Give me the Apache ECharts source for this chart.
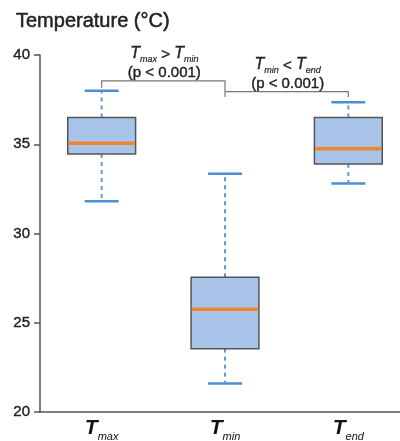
<!DOCTYPE html>
<html><head><meta charset="utf-8">
<script src="https://cdn.jsdelivr.net/npm/echarts@6/dist/echarts.min.js"></script>
<style>html,body{margin:0;padding:0;background:#fff}#c{width:400px;height:441px}</style>
</head><body><div id="c"></div>
<script>
var categories = ['max', 'min', 'end'];
var lowWhisker = [31.8, 21.6, 32.8];
var q1 = [34.45, 23.55, 33.9];
var median = [35.05, 25.75, 34.75];
var q3 = [36.5, 27.55, 36.5];
var highWhisker = [38.0, 33.35, 37.35];
var yTicks = [20, 25, 30, 35, 40];
// bracket: [fromIndex, toIndex, barY, leftEndY, rightEndY]
var brackets = [[0, 1, 38.55, 38.15, 37.65], [1, 2, 37.95, 37.95, 37.65]];
var bracketLabels = [['max', '>', 'min'], ['min', '<', 'end']];
var pLabel = '(p < 0.001)';

var FONT = '"Liberation Sans", Arial, Helvetica, sans-serif';
var boxData = categories.map(function (c, i) {
  return [i, lowWhisker[i], q1[i], median[i], q3[i], highWhisker[i]];
});

var chart = echarts.init(document.getElementById('c'));
chart.setOption({
  animation: false,
  title: {
    text: 'Temperature (°C)', left: 11, top: 6,
    textStyle: { fontFamily: FONT, fontSize: 20, fontWeight: 'normal', color: '#222', textBorderColor: '#222', textBorderWidth: 0.5 }
  },
  grid: { left: 40, width: 370, top: 55, bottom: 29, outerBoundsMode: 'none', containLabel: false },
  xAxis: {
    type: 'category', data: categories, boundaryGap: true,
    axisLine: { lineStyle: { color: '#555', width: 1.5 } },
    axisTick: { alignWithLabel: true, length: 5, lineStyle: { color: '#555', width: 1.5 } },
    axisLabel: {
      margin: 6,
      formatter: function (v) { return '{T|T}{s|' + v + '}'; },
      rich: {
        T: { fontFamily: FONT, fontSize: 21, fontWeight: 'bold', fontStyle: 'italic', color: '#111', verticalAlign: 'top', lineHeight: 24 },
        s: { fontFamily: FONT, fontSize: 11, fontStyle: 'italic', color: '#111', verticalAlign: 'bottom', lineHeight: 24, padding: [12, 0, 0, 0] }
      }
    },
    splitLine: { show: false }
  },
  yAxis: {
    type: 'value', min: yTicks[0], max: yTicks[yTicks.length - 1], interval: 5,
    axisLine: { show: true, lineStyle: { color: '#555', width: 1.5 } },
    axisTick: { show: true, length: 6, lineStyle: { color: '#555', width: 1.5 } },
    axisLabel: { fontFamily: FONT, fontSize: 15, color: '#222', margin: 10, textBorderColor: '#222', textBorderWidth: 0.4 },
    splitLine: { show: false }
  },
  series: [{
    type: 'custom',
    data: boxData,
    encode: { x: 0, y: [1, 2, 3, 4, 5] },
    renderItem: function (params, api) {
      var x = api.value(0);
      var w = api.size([1, 0])[0] * 0.55;
      var pLow = api.coord([x, api.value(1)]);
      var pQ1 = api.coord([x, api.value(2)]);
      var pMed = api.coord([x, api.value(3)]);
      var pQ3 = api.coord([x, api.value(4)]);
      var pHigh = api.coord([x, api.value(5)]);
      var cx = pMed[0];
      var dash = { stroke: '#5b9bd5', lineWidth: 2, lineDash: [4, 4] };
      var cap = { stroke: '#4a8fd0', lineWidth: 2.5 };
      return {
        type: 'group',
        children: [
          { type: 'line', shape: { x1: cx, y1: pQ3[1], x2: cx, y2: pHigh[1] }, style: dash },
          { type: 'line', shape: { x1: cx, y1: pQ1[1], x2: cx, y2: pLow[1] }, style: dash },
          { type: 'line', shape: { x1: cx - w / 4, y1: pHigh[1], x2: cx + w / 4, y2: pHigh[1] }, style: cap },
          { type: 'line', shape: { x1: cx - w / 4, y1: pLow[1], x2: cx + w / 4, y2: pLow[1] }, style: cap },
          { type: 'rect', shape: { x: cx - w / 2, y: pQ3[1], width: w, height: pQ1[1] - pQ3[1] },
            style: { fill: '#a8c4e8', stroke: '#555', lineWidth: 1.5 } },
          { type: 'line', shape: { x1: cx - w / 2 + 0.75, y1: pMed[1], x2: cx + w / 2 - 0.75, y2: pMed[1] },
            style: { stroke: '#f5822f', lineWidth: 3.5 } }
        ]
      };
    }
  }, {
    type: 'custom',
    data: brackets,
    encode: { x: [0, 1], y: [2, 3, 4] },
    renderItem: function (params, api) {
      var i = params.dataIndex;
      var a = api.coord([api.value(0), api.value(2)]);
      var b = api.coord([api.value(1), api.value(2)]);
      var aEnd = api.coord([api.value(0), api.value(3)]);
      var bEnd = api.coord([api.value(1), api.value(4)]);
      var st = { stroke: '#777', lineWidth: 1.2, fill: null };
      var lab = bracketLabels[i];
      function r(o) { return Object.assign({ fontFamily: FONT, fill: '#222', stroke: '#222', lineWidth: 0.4, lineHeight: 18 }, o); }
      return {
        type: 'group',
        children: [
          { type: 'polyline', shape: { points: [[a[0], aEnd[1]], a, b, [b[0], bEnd[1]]] }, style: st },
          { type: 'text', x: (a[0] + b[0]) / 2 + 1, y: a[1] + 1,
            style: {
              text: '{T|T}{s|' + lab[0] + '}{o| ' + lab[1] + ' }{T|T}{s|' + lab[2] + '}\n{p|' + pLabel + '}',
              align: 'center', verticalAlign: 'bottom',
              rich: {
                T: r({ fontSize: 16, fontStyle: 'italic', verticalAlign: 'top' }),
                s: r({ fontSize: 9, fontStyle: 'italic', verticalAlign: 'bottom', padding: [6, 0, 0, 0], lineWidth: 0.2 }),
                o: r({ fontSize: 15 }),
                p: r({ fontSize: 15 })
              }
            } }
        ]
      };
    }
  }]
});
</script></body></html>
